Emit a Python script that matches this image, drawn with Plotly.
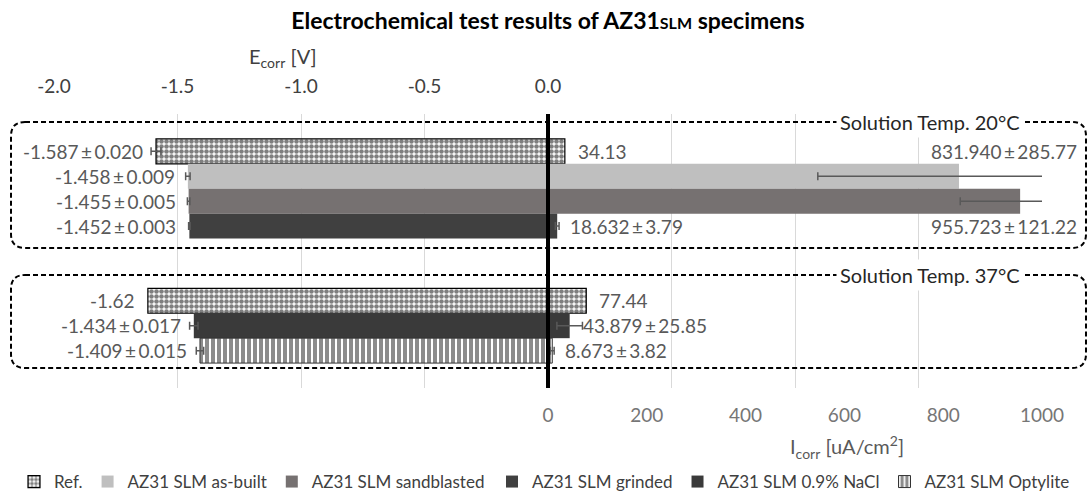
import plotly.graph_objects as go

# ---------------- data ----------------
series = ["Ref.", "AZ31 SLM as-built", "AZ31 SLM sandblasted", "AZ31 SLM grinded",
          "AZ31 SLM 0.9% NaCl", "AZ31 SLM Optylite"]
groups = ["Solution Temp. 20°C", "Solution Temp. 37°C"]

row_group = [0, 0, 0, 0, 1, 1, 1]
row_series = ["Ref.", "AZ31 SLM as-built", "AZ31 SLM sandblasted", "AZ31 SLM grinded",
              "Ref.", "AZ31 SLM 0.9% NaCl", "AZ31 SLM Optylite"]
ecorr = [-1.587, -1.458, -1.455, -1.452, -1.62, -1.434, -1.409]
ecorr_err = [0.020, 0.009, 0.005, 0.003, None, 0.017, 0.015]
icorr = [34.13, 831.940, 955.723, 18.632, 77.44, 43.879, 8.673]
icorr_err = [None, 285.77, 121.22, 3.79, None, 25.85, 3.82]
ecorr_labels = ["-1.587\u2009±\u20090.020", "-1.458\u2009±\u20090.009", "-1.455\u2009±\u20090.005",
                "-1.452\u2009±\u20090.003", "-1.62", "-1.434\u2009±\u20090.017", "-1.409\u2009±\u20090.015"]
icorr_labels = ["34.13", "831.940\u2009±\u2009285.77", "955.723\u2009±\u2009121.22", "18.632\u2009±\u20093.79",
                "77.44", "43.879\u2009±\u200925.85", "8.673\u2009±\u20093.82"]

e_ticks = [-2.0, -1.5, -1.0, -0.5, 0.0]
e_ticktext = ["-2.0", "-1.5", "-1.0", "-0.5", "0.0"]
e_range = [-2.0, 2.0]
i_ticks = [0, 200, 400, 600, 800, 1000]
i_range = [-1000, 1000]

# ---------------- layout geometry ----------------
W, H = 1089, 497
L, R, T, B = 54, 1042, 114, 388
FONT = "Lato, 'Open Sans', sans-serif"
LABEL_GRAY = "#595959"


def px_x(px):
    return (px - L) / (R - L)


def px_y(py):
    return (B - py) / (B - T)


styles = {
    "Ref.": dict(color="white",
                 pattern=dict(shape=".", fgcolor="black", bgcolor="white", size=5, solidity=0.66),
                 line=dict(color="black", width=1.2)),
    "AZ31 SLM as-built": dict(color="#BFBFBF", line=dict(width=0)),
    "AZ31 SLM sandblasted": dict(color="#767171", line=dict(width=0)),
    "AZ31 SLM grinded": dict(color="#404040", line=dict(width=0)),
    "AZ31 SLM 0.9% NaCl": dict(color="#3A3A3A", line=dict(width=0)),
    "AZ31 SLM Optylite": dict(color="white",
                              pattern=dict(shape="|", fgcolor="#1A1A1A", bgcolor="white", size=6, solidity=0.66),
                              line=dict(color="#333333", width=1)),
}
# first three legend entries in one legend box, last three in a second one
legend_of = {s: ("legend" if k < 3 else "legend2") for k, s in enumerate(series)}

# slot positions on the (hidden) row axis
row_slot = []
counters = {}
for g in row_group:
    k = counters.get(g, 0)
    row_slot.append(1 + g * 6 + k)
    counters[g] = k + 1

fig = go.Figure()
seen = set()
for i, s in enumerate(row_series):
    st = styles[s]
    show = s not in seen
    seen.add(s)
    # Icorr bar (bottom axis)
    fig.add_trace(go.Bar(
        x=[icorr[i]], y=[row_slot[i]], orientation="h", width=1.0,
        xaxis="x", yaxis="y", name=s, legendgroup=s, showlegend=show, legend=legend_of[s],
        marker=st,
        error_x=dict(type="data", array=[icorr_err[i]], visible=icorr_err[i] is not None,
                     color="#595959", thickness=1.5, width=4),
        hoverinfo="skip",
    ))
    # Ecorr bar (top axis)
    fig.add_trace(go.Bar(
        x=[ecorr[i]], y=[row_slot[i]], orientation="h", width=1.0,
        xaxis="x2", yaxis="y", name=s, legendgroup=s, showlegend=False, legend=legend_of[s],
        marker=st,
        error_x=dict(type="data", array=[ecorr_err[i]], visible=ecorr_err[i] is not None,
                     color="#595959", thickness=1.5, width=4),
        hoverinfo="skip",
    ))

annotations = []
lab_font = dict(family=FONT, size=19, color=LABEL_GRAY)
for i in range(len(row_series)):
    annotations.append(dict(x=ecorr[i], y=row_slot[i], xref="x2", yref="y", text=ecorr_labels[i],
                            showarrow=False, xanchor="right", yanchor="middle", xshift=-11, font=lab_font))
    if icorr[i] > 500:
        # large values: label moved above / below the bar, right-aligned at the axis end
        dy = -1 if row_slot[i] == 2 else 1
        annotations.append(dict(x=i_range[1], y=row_slot[i] + dy, xref="x", yref="y", text=icorr_labels[i],
                                showarrow=False, xanchor="right", yanchor="middle", xshift=37, font=lab_font))
    else:
        annotations.append(dict(x=icorr[i], y=row_slot[i], xref="x", yref="y", text=icorr_labels[i],
                                showarrow=False, xanchor="left", yanchor="middle", xshift=11, font=lab_font))

# group boxes (rounded dashed rectangles) and their labels
boxes_px = [(11, 122, 1086, 248), (11, 275, 1086, 368)]
shapes = []
r = 14
for (x0, y0, x1, y1), gname in zip(boxes_px, groups):
    pts = [("M", x0 + r, y0), ("L", x1 - r, y0), ("Q", x1, y0, x1, y0 + r), ("L", x1, y1 - r),
           ("Q", x1, y1, x1 - r, y1), ("L", x0 + r, y1), ("Q", x0, y1, x0, y1 - r), ("L", x0, y0 + r),
           ("Q", x0, y0, x0 + r, y0)]
    path = ""
    for p in pts:
        cmd = p[0]
        coords = p[1:]
        parts = []
        for j in range(0, len(coords), 2):
            parts.append(f"{px_x(coords[j]):.5f},{px_y(coords[j + 1]):.5f}")
        path += cmd + " " + " ".join(parts) + " "
    path += "Z"
    shapes.append(dict(type="path", path=path, xref="paper", yref="paper",
                       line=dict(color="black", width=2, dash="5px,3px"), layer="above"))
    annotations.append(dict(x=px_x(930), y=px_y(y0), xref="paper", yref="paper", text=gname,
                            showarrow=False, xanchor="center", yanchor="middle", bgcolor="white",
                            borderpad=3, font=dict(family=FONT, size=20, color="#262626")))

# thick zero line on top of the bars
shapes.append(dict(type="line", x0=0, x1=0, xref="x", y0=0, y1=1, yref="paper",
                   line=dict(color="black", width=4), layer="above"))

# axis titles
annotations.append(dict(x=px_x(283), y=px_y(57), xref="paper", yref="paper",
                        text="E<sub>corr</sub> [V]", showarrow=False, xanchor="center", yanchor="middle",
                        font=dict(family=FONT, size=20, color="#404040")))
annotations.append(dict(x=px_x(847), y=px_y(447), xref="paper", yref="paper",
                        text="I<sub>corr</sub> [uA/cm<sup>2</sup>]", showarrow=False, xanchor="center",
                        yanchor="middle", font=dict(family=FONT, size=20, color="#595959")))

legend_common = dict(orientation="h", xref="container", yref="container", y=1 - 482 / H, yanchor="middle",
                     font=dict(family=FONT, size=17, color="#404040"), itemwidth=30, tracegroupgap=0,
                     bgcolor="rgba(0,0,0,0)")

fig.update_layout(
    width=W, height=H, autosize=False,
    margin=dict(l=L, r=W - R, t=T, b=H - B, pad=0, autoexpand=False),
    paper_bgcolor="white", plot_bgcolor="white",
    barmode="overlay",
    font=dict(family=FONT, color=LABEL_GRAY),
    title=dict(text="<b>Electrochemical test results of AZ31<span style='font-size:16px'>SLM</span> specimens</b>",
               x=0.5, xref="paper", xanchor="center", y=1 - 21 / H, yanchor="middle",
               font=dict(family=FONT, size=23, color="black")),
    xaxis=dict(range=i_range, tickvals=i_ticks, ticktext=[str(v) for v in i_ticks],
               showgrid=False, zeroline=False, showline=False, ticks="",
               tickfont=dict(family=FONT, size=19, color="#767676"), ticklabelstandoff=14),
    xaxis2=dict(range=e_range, overlaying="x", side="top", tickvals=e_ticks, ticktext=e_ticktext,
                showgrid=True, gridcolor="#D9D9D9", gridwidth=1, zeroline=False, showline=False, ticks="",
                minor=dict(dtick=0.5, tick0=0, showgrid=True, gridcolor="#D9D9D9", gridwidth=1, ticks=""),
                tickfont=dict(family=FONT, size=19, color="#404040"), ticklabelstandoff=16),
    yaxis=dict(range=[10.5, -0.5], visible=False, showgrid=False, zeroline=False),
    legend=dict(x=14 / W, xanchor="left", **legend_common),
    legend2=dict(x=492 / W, xanchor="left", **legend_common),
    shapes=shapes,
    annotations=annotations,
    showlegend=True,
)

fig.write_html("out.html",
               config={"responsive": False, "displayModeBar": False},
               post_script="document.body.style.margin='0px';")
